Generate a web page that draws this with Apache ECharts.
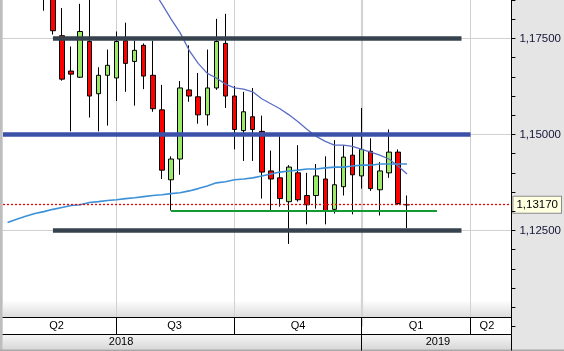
<!DOCTYPE html>
<html><head><meta charset="utf-8">
<script src="https://cdn.jsdelivr.net/npm/echarts@6/dist/echarts.min.js"></script>
<style>html,body{margin:0;padding:0;background:#e5e5e5}#c{width:564px;height:351px}</style>
</head><body><div id="c"></div>
<script>
// ---- categories (weekly) ----
const weeks = ['2018-04-09','2018-04-16','2018-04-23','2018-04-30','2018-05-07','2018-05-14','2018-05-21','2018-05-28',
'2018-06-04','2018-06-11','2018-06-18','2018-06-25','2018-07-02','2018-07-09','2018-07-16','2018-07-23','2018-07-30',
'2018-08-06','2018-08-13','2018-08-20','2018-08-27','2018-09-03','2018-09-10','2018-09-17','2018-09-24',
'2018-10-01','2018-10-08','2018-10-15','2018-10-22','2018-10-29','2018-11-05','2018-11-12','2018-11-19','2018-11-26',
'2018-12-03','2018-12-10','2018-12-17','2018-12-24','2018-12-31','2019-01-07','2019-01-14','2019-01-21','2019-01-28',
'2019-02-04','2019-02-11','2019-02-18','2019-02-25','2019-03-04','2019-03-11','2019-03-18','2019-03-25',
'2019-04-01','2019-04-08','2019-04-15','2019-04-22','2019-04-29'];
const firstCandle = 4; // index in weeks of first candle (2018-05-07)

// ---- candles ----
const opens = [1.1960,1.1940,1.1757,1.1665,1.1649,1.1742,1.1606,1.1654,1.1647,1.1744,
1.1690,1.1732,1.1654,1.1564,1.1382,1.1436,1.1616,1.1598,1.1551,1.1621,
1.1737,1.1600,1.1510,1.1546,1.1508,1.1405,1.1387,1.1325,1.1400,1.1341,
1.1341,1.1384,1.1305,1.1364,1.1446,1.1392,1.1456,1.1356,1.1400,1.1454,1.1317];
const closes = [1.1943,1.1770,1.1644,1.1657,1.1768,1.1600,1.1654,1.1680,1.1742,1.1685,
1.1719,1.1652,1.1567,1.1407,1.1436,1.1621,1.1600,1.1551,1.1621,1.1742,
1.1600,1.1513,1.1559,1.1513,1.1402,1.1384,1.1333,1.1415,1.1330,1.1317,
1.1392,1.1302,1.1369,1.1441,1.1395,1.1461,1.1359,1.1405,1.1454,1.1320,1.1317];
const lows = [1.1822,1.1760,1.1640,1.1508,1.1647,1.1544,1.1508,1.1523,1.1587,1.1611,
1.1575,1.1618,1.1559,1.1384,1.1302,1.1395,1.1585,1.1528,1.1523,1.1616,
1.1569,1.1461,1.1431,1.1431,1.1333,1.1302,1.1312,1.1215,1.1325,1.1266,
1.1307,1.1266,1.1294,1.1341,1.1292,1.1359,1.1353,1.1289,1.1387,1.1317,1.1256];
const highs = [1.1996,1.1996,1.1829,1.1729,1.1840,1.1852,1.1675,1.1721,1.1768,1.1791,
1.1744,1.1737,1.1744,1.1629,1.1443,1.1639,1.1732,1.1660,1.1721,1.1801,
1.1814,1.1626,1.1611,1.1621,1.1549,1.1458,1.1495,1.1420,1.1472,1.1400,
1.1423,1.1443,1.1485,1.1472,1.1495,1.1569,1.1490,1.1428,1.1513,1.1461,1.1341];

// ---- moving averages ----
const maFastStart = 16;
const maFast = [1.1876,1.1840,1.1801,1.1765,1.1719,1.1685,1.1659,1.1647,1.1631,1.1621,
1.1618,1.1611,1.1593,1.1580,1.1567,1.1551,1.1533,1.1513,1.1495,1.1482,
1.1472,1.1472,1.1469,1.1461,1.1454,1.1446,1.1436,1.1418,1.1397];
const maSlowStart = 0;
const maSlow = [1.1271,1.1279,1.1287,1.1294,
1.1299,1.1305,1.1310,1.1315,1.1317,1.1323,1.1325,1.1328,1.1330,1.1333,
1.1335,1.1338,1.1341,1.1343,1.1346,1.1348,1.1353,1.1359,1.1366,1.1374,
1.1377,1.1382,1.1384,1.1387,1.1392,1.1397,1.1402,1.1405,1.1407,1.1410,
1.1410,1.1413,1.1415,1.1415,1.1418,1.1420,1.1420,1.1423,1.1423,1.1423,1.1423];

// ---- drawn levels (price, from week, to week) ----
const levelPrice = [1.175, 1.15, 1.125, 1.1301];
const levelFrom  = [5, -0.5, 5, 18];
const levelTo    = [50, 51, 50, 47.3];
const levelColor = ['#37424f', '#3b50a8', '#37424f', '#139a33'];
const levelWidth = [4.5, 4.5, 4.5, 2];
const lastPrice = 1.1317;

// ---- axis labels ----
const yTickLabels = [1.125, 1.15, 1.175];
const quarterNames = ['Q2','Q3','Q4','Q1','Q2'];
const quarterLabelAt = [5.4, 18.4, 32, 45, 52.8];
const quarterBounds = [12, 25, 39, 51, 55.5];
const yearNames = ['2018','2019'];
const yearLabelAt = [12.5, 47.4];
const yearBounds = [39, 55.5];

const FONT = 'Liberation Sans';
const candleData = weeks.map((w, k) => {
  const i = k - firstCandle;
  return (i >= 0 && i < opens.length) ? [opens[i], closes[i], lows[i], highs[i]] : '-';
});
const fromArr = (arr, start) => weeks.map((w, k) => {
  const i = k - start; return (i >= 0 && i < arr.length) ? arr[i] : '-';
});
const nearestLabel = (v, pos, names) => {
  let best = 0; pos.forEach((p, j) => { if (Math.abs(p - v) < Math.abs(pos[best] - v)) best = j; });
  return Math.abs(pos[best] - v) < 0.01 ? names[best] : '';
};

const levelSeries = levelPrice.map((p, j) => ({
  type: 'line', xAxisIndex: 1, yAxisIndex: 0, z: 4, silent: true,
  symbol: 'none', animation: false,
  data: [[levelFrom[j], p], [levelTo[j], p]],
  lineStyle: { color: levelColor[j], width: levelWidth[j], cap: 'butt' }
}));
// grid lines attached to the first level series
levelSeries[0].markLine = {
  silent: true, symbol: 'none', z: 1, animation: false, precision: 5, label: { show: false },
  data: [
    ...quarterBounds.slice(0, 4).map(v => ({ xAxis: v, lineStyle: { color: v === yearBounds[0] ? '#d4d4d4' : '#d0d0d0', width: v === yearBounds[0] ? 2.2 : 1, type: 'solid' } })),
    ...yTickLabels.map(v => ({ yAxis: v, lineStyle: { color: '#d0d0d0', width: 1, type: 'solid' } }))
  ]
};

const chart = echarts.init(document.getElementById('c'), null, { renderer: 'canvas' });
chart.setOption({
  animation: false,
  backgroundColor: '#e5e5e5',
  grid: {
    left: 3, right: 52, top: -4, bottom: 24.5, show: true, borderWidth: 0,
    backgroundColor: new echarts.graphic.LinearGradient(0, 0, 0, 1, [
      { offset: 0, color: '#ffffff' }, { offset: 0.92, color: '#ffffff' },
      { offset: 0.9713, color: '#dcdcdc' }, { offset: 1, color: '#dcdcdc' }])
  },
  xAxis: [
    { type: 'category', data: weeks, boundaryGap: true, position: 'top', show: false },
    { type: 'value', min: -0.5, max: 55.5, position: 'bottom', offset: -9.5, z: 10,
      axisLine: { show: true, onZero: false, lineStyle: { color: '#000', width: 1 } },
      axisTick: { show: true, customValues: quarterBounds, length: 17, lineStyle: { color: '#000' } },
      axisLabel: { show: true, customValues: quarterLabelAt, margin: 3, color: '#000', fontFamily: FONT, fontSize: 11,
        formatter: v => nearestLabel(v, quarterLabelAt, quarterNames) },
      splitLine: { show: false } },
    { type: 'value', min: -0.5, max: 55.5, position: 'bottom', offset: 8, z: 10,
      axisLine: { show: true, onZero: false, lineStyle: { color: '#000', width: 1 } },
      axisTick: { show: true, customValues: yearBounds, length: 16, lineStyle: { color: '#000' } },
      axisLabel: { show: true, customValues: yearLabelAt, margin: 2, color: '#000', fontFamily: FONT, fontSize: 11,
        formatter: v => nearestLabel(v, yearLabelAt, yearNames) },
      splitLine: { show: false } }
  ],
  yAxis: {
    type: 'value', position: 'right', min: 1.1, max: 1.185, interval: 0.005, z: 10,
    axisLine: { show: true, onZero: false, lineStyle: { color: '#000', width: 1 } },
    axisTick: { show: true, length: 4, lineStyle: { color: '#000' } },
    splitLine: { show: false },
    axisLabel: { margin: 8, color: '#141438', fontFamily: FONT, fontSize: 11.5,
      formatter: v => yTickLabels.some(t => Math.abs(t - v) < 1e-6) ? v.toFixed(5).replace('.', ',') : '' }
  },
  graphic: [
    { type: 'rect', z: 1, shape: { x: 3, y: 317.5, width: 509, height: 17 }, style: { fill: '#ffffff' } },
    { type: 'rect', z: 1, shape: { x: 3, y: 334.5, width: 509, height: 15 },
      style: { fill: new echarts.graphic.LinearGradient(0, 0, 0, 1, [{ offset: 0, color: '#f5f5f5' }, { offset: 1, color: '#d8d8d8' }]) } },
    { type: 'rect', z: 1, shape: { x: 0, y: 0, width: 2.5, height: 351 }, style: { fill: '#bdbdbd' } },
    { type: 'rect', z: 1, shape: { x: 0, y: 349.5, width: 564, height: 1.5 }, style: { fill: '#a8a8a8' } }
  ],
  series: [
    { type: 'candlestick', xAxisIndex: 0, yAxisIndex: 0, z: 2, barWidth: 5, data: candleData, clip: true,
      itemStyle: { color: '#9aea68', color0: '#ff0000', borderColor: '#000', borderColor0: '#000', borderColorDoji: '#000', borderWidth: 1 } },
    { type: 'line', xAxisIndex: 0, yAxisIndex: 0, z: 3, data: fromArr(maFast, maFastStart), symbol: 'none', clip: true,
      lineStyle: { color: '#5a6ec4', width: 1.3 } },
    { type: 'line', xAxisIndex: 0, yAxisIndex: 0, z: 3, data: fromArr(maSlow, maSlowStart), symbol: 'none', clip: false,
      lineStyle: { color: '#3c90d8', width: 1.6 },
      markLine: { silent: true, symbol: 'none', animation: false, precision: 5,
        data: [{ yAxis: lastPrice, lineStyle: { color: '#ee0000', width: 1.3, type: [2, 2], opacity: 1 } }],
        lineStyle: { color: '#ee0000', width: 1.3, type: [2, 2], opacity: 1 },
        label: { show: true, position: 'end', distance: 2, formatter: () => lastPrice.toFixed(5).replace('.', ','),
          color: '#000', fontFamily: FONT, fontSize: 11.5, backgroundColor: '#ffffe1',
          borderColor: '#8c8c8c', borderWidth: 1, padding: [2, 3] } } },
    ...levelSeries
  ]
});
</script></body></html>
